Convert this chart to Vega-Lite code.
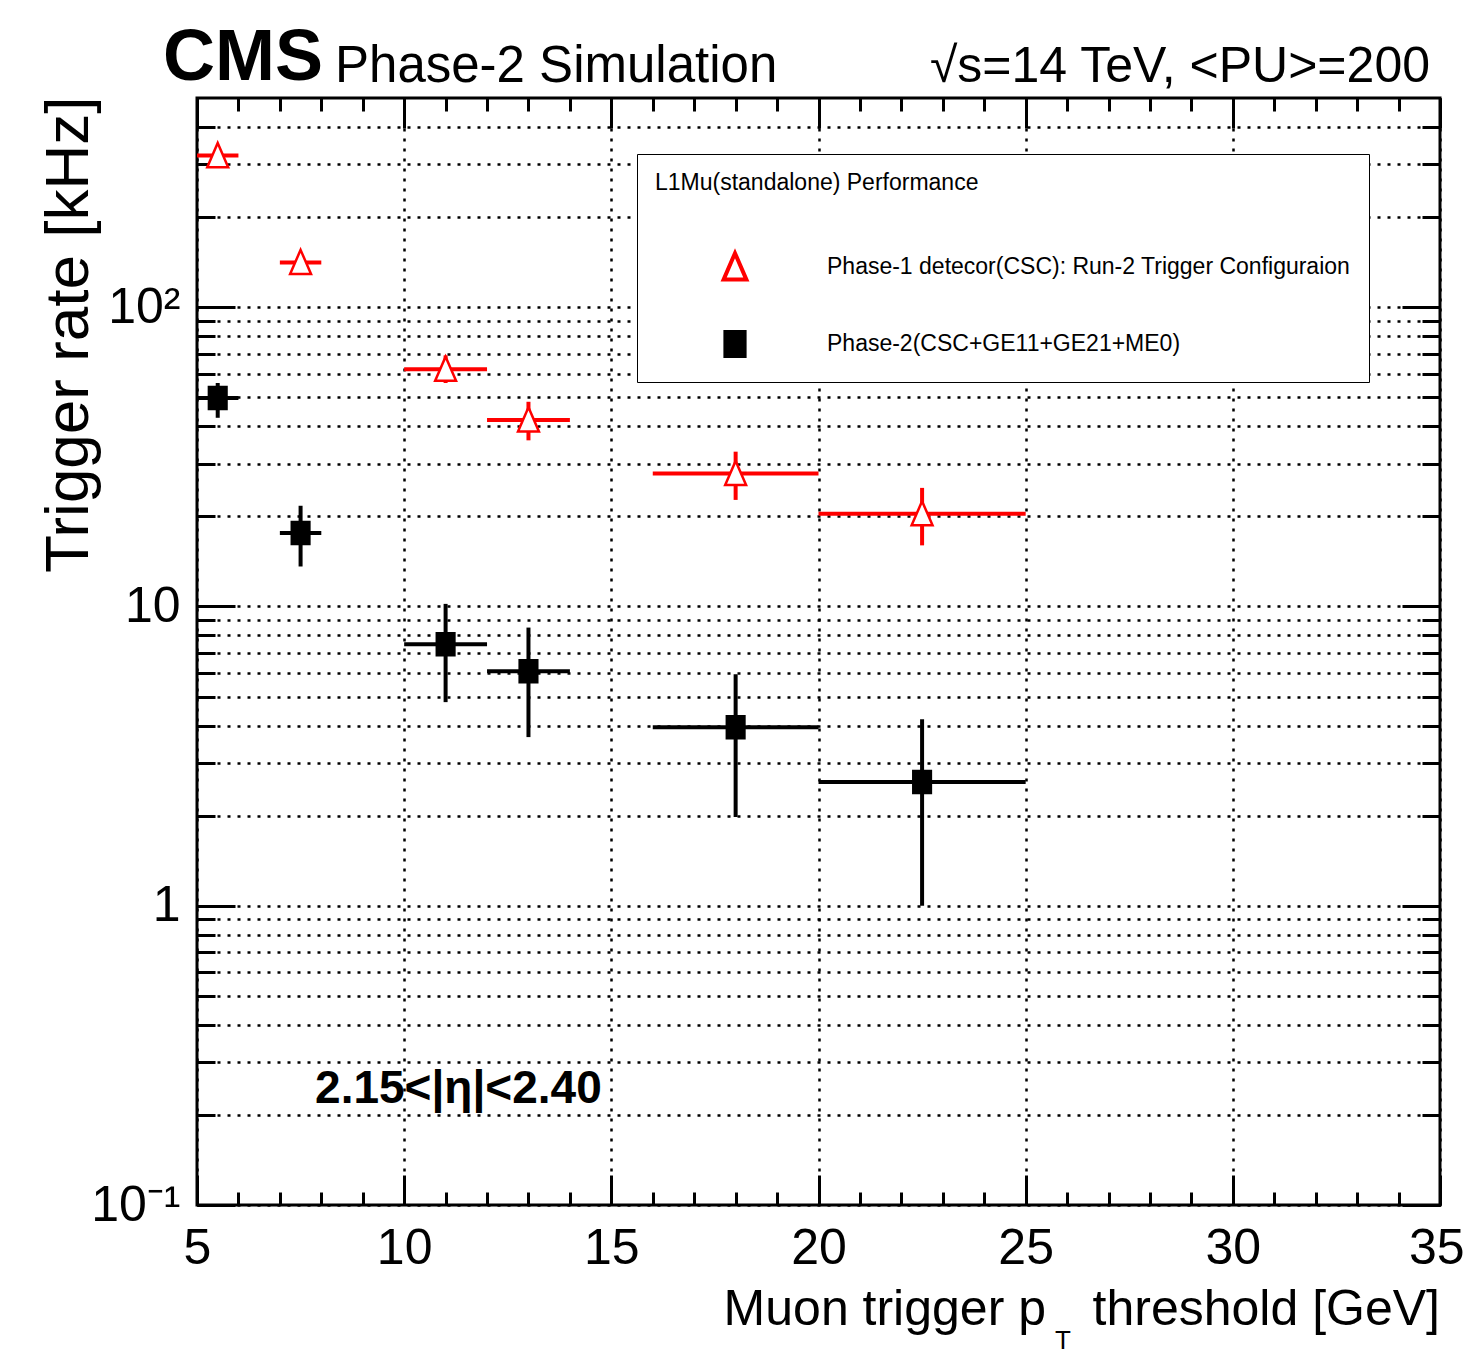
{
  "$schema": "https://vega.github.io/schema/vega-lite/v6.json",
  "width": 1243,
  "height": 1107,
  "autosize": "none",
  "padding": {"left": 197, "top": 98, "right": 25, "bottom": 150},
  "background": "white",
  "config": {
    "font": "Liberation Sans",
    "view": {"stroke": "black", "strokeWidth": 3},
    "axis": {"domain": false, "offset": 0, "tickColor": "black", "tickWidth": 3, "labelColor": "black", "gridColor": "black", "gridOpacity": 1, "titleColor": "black", "labelFont": "Liberation Sans", "titleFont": "Liberation Sans"},
    "legend": {"labelFont": "Liberation Sans", "titleFont": "Liberation Sans"}
  },
  "data": {
    "values": [
      {"series": "Phase-1 detecor(CSC): Run-2 Trigger Configuraion", "x": 5.5, "xlo": 5, "xhi": 6, "rate": 321, "lo": 305, "hi": 338},
      {"series": "Phase-1 detecor(CSC): Run-2 Trigger Configuraion", "x": 7.5, "xlo": 7, "xhi": 8, "rate": 141, "lo": 133, "hi": 150},
      {"series": "Phase-1 detecor(CSC): Run-2 Trigger Configuraion", "x": 11, "xlo": 10, "xhi": 12, "rate": 62, "lo": 55.8, "hi": 69},
      {"series": "Phase-1 detecor(CSC): Run-2 Trigger Configuraion", "x": 13, "xlo": 12, "xhi": 14, "rate": 42, "lo": 35.9, "hi": 48.3},
      {"series": "Phase-1 detecor(CSC): Run-2 Trigger Configuraion", "x": 18, "xlo": 16, "xhi": 20, "rate": 27.8, "lo": 22.7, "hi": 32.9},
      {"series": "Phase-1 detecor(CSC): Run-2 Trigger Configuraion", "x": 22.5, "xlo": 20, "xhi": 25, "rate": 20.4, "lo": 16.0, "hi": 24.9},
      {"series": "Phase-2(CSC+GE11+GE21+ME0)", "x": 5.5, "xlo": 5, "xhi": 6, "rate": 49.7, "lo": 42.7, "hi": 55.8},
      {"series": "Phase-2(CSC+GE11+GE21+ME0)", "x": 7.5, "xlo": 7, "xhi": 8, "rate": 17.6, "lo": 13.6, "hi": 21.7},
      {"series": "Phase-2(CSC+GE11+GE21+ME0)", "x": 11, "xlo": 10, "xhi": 12, "rate": 7.47, "lo": 4.79, "hi": 10.2},
      {"series": "Phase-2(CSC+GE11+GE21+ME0)", "x": 13, "xlo": 12, "xhi": 14, "rate": 6.07, "lo": 3.66, "hi": 8.5},
      {"series": "Phase-2(CSC+GE11+GE21+ME0)", "x": 18, "xlo": 16, "xhi": 20, "rate": 3.95, "lo": 1.98, "hi": 5.94},
      {"series": "Phase-2(CSC+GE11+GE21+ME0)", "x": 22.5, "xlo": 20, "xhi": 25, "rate": 2.59, "lo": 1.0, "hi": 4.2}
    ]
  },
  "resolve": {"axis": {"x": "independent", "y": "independent"}},
  "layer": [
    {
      "mark": {"type": "rule", "strokeWidth": 4},
      "encoding": {
        "x": {"field": "xlo", "type": "quantitative", "scale": {"domain": [5, 35], "nice": false, "zero": false},
          "axis": {"orient": "bottom", "values": [5, 10, 15, 20, 25, 30, 35], "tickSize": -30, "labelPadding": 48, "labelFontSize": 50, "labelFlush": false, "labelOverlap": false,
            "labelAlign": {"condition": {"test": "datum.value > 34", "value": "right"}, "value": "center"},
            "labelOffset": {"condition": {"test": "datum.value > 34", "value": 24}, "value": 0},
            "grid": true, "gridDash": [3, 7], "gridWidth": 2.5, "title": null}},
        "x2": {"field": "xhi"},
        "y": {"field": "rate", "type": "quantitative", "scale": {"type": "log", "domain": [0.1, 500], "nice": false},
          "axis": {"orient": "left", "values": [0.1, 1, 10, 100], "tickSize": -38, "labelPadding": 55, "labelFontSize": 50, "labelFlush": false, "labelOverlap": false,
            "labelExpr": "datum.value < 0.5 ? '10⁻¹' : datum.value > 50 ? '10²' : datum.value < 5 ? '1' : '10'",
            "grid": false, "title": "Trigger rate [kHz]", "titleFontSize": 62, "titleFontWeight": "normal", "titleAngle": -90, "titleAlign": "right", "titleBaseline": "alphabetic", "titleX": -110, "titleY": -2}},
        "color": {"field": "series", "type": "nominal", "scale": {"domain": ["Phase-2(CSC+GE11+GE21+ME0)", "Phase-1 detecor(CSC): Run-2 Trigger Configuraion"], "range": ["#000000", "#ff0000"]}, "legend": null}
      }
    },
    {
      "mark": {"type": "rule", "strokeWidth": 4},
      "encoding": {
        "x": {"field": "x", "type": "quantitative",
          "axis": {"orient": "bottom", "values": [5,6,7,8,9,10,11,12,13,14,15,16,17,18,19,20,21,22,23,24,25,26,27,28,29,30,31,32,33,34,35], "tickSize": -13, "labels": false, "grid": false, "title": null}},
        "y": {"field": "lo", "type": "quantitative",
          "axis": {"orient": "left", "values": [0.1,0.2,0.3,0.4,0.5,0.6,0.7,0.8,0.9,1,2,3,4,5,6,7,8,9,10,20,30,40,50,60,70,80,90,100,200,300,400], "tickSize": -18, "labels": false, "grid": true, "gridDash": [3, 7], "gridWidth": 2.5, "title": null}},
        "y2": {"field": "hi"},
        "color": {"field": "series", "type": "nominal", "legend": null}
      }
    },
    {
      "mark": {"type": "point", "size": 484, "strokeWidth": 2.5, "opacity": 1},
      "encoding": {
        "x": {"field": "x", "type": "quantitative",
          "axis": {"orient": "top", "values": [5, 10, 15, 20, 25, 30, 35], "tickSize": -30, "labels": false, "grid": false, "title": null}},
        "y": {"field": "rate", "type": "quantitative",
          "axis": {"orient": "right", "values": [0.1, 1, 10, 100], "tickSize": -38, "labels": false, "grid": false, "title": null}},
        "fill": {"field": "series", "type": "nominal", "scale": {"domain": ["Phase-1 detecor(CSC): Run-2 Trigger Configuraion", "Phase-2(CSC+GE11+GE21+ME0)"], "range": ["#ffffff", "#000000"]},
          "legend": {
            "orient": "none", "legendX": 440, "legendY": 56,
            "title": "L1Mu(standalone) Performance", "titleFontSize": 23, "titleFontWeight": "normal", "titleColor": "black", "titlePadding": 58, "titleLimit": 1000,
            "labelFontSize": 23, "labelColor": "black", "labelLimit": 1000,
            "padding": 18, "strokeColor": "black", "fillColor": "white",
            "symbolSize": 576, "symbolOffset": 66, "labelOffset": 78, "rowPadding": 36, "symbolStrokeWidth": 4}},
        "stroke": {"field": "series", "type": "nominal", "scale": {"domain": ["Phase-1 detecor(CSC): Run-2 Trigger Configuraion", "Phase-2(CSC+GE11+GE21+ME0)"], "range": ["#ff0000", "#000000"]},
          "legend": {
            "orient": "none", "legendX": 440, "legendY": 56,
            "title": "L1Mu(standalone) Performance", "titleFontSize": 23, "titleFontWeight": "normal", "titleColor": "black", "titlePadding": 58, "titleLimit": 1000,
            "labelFontSize": 23, "labelColor": "black", "labelLimit": 1000,
            "padding": 18, "strokeColor": "black", "fillColor": "white",
            "symbolSize": 576, "symbolOffset": 66, "labelOffset": 78, "rowPadding": 36, "symbolStrokeWidth": 4}},
        "shape": {"field": "series", "type": "nominal",
          "scale": {"domain": ["Phase-1 detecor(CSC): Run-2 Trigger Configuraion", "Phase-2(CSC+GE11+GE21+ME0)"], "range": ["M0,-1.15L0.95,1.05H-0.95Z", "M-0.8,-1H0.8V1H-0.8Z"]},
          "legend": {
            "orient": "none", "legendX": 440, "legendY": 56,
            "title": "L1Mu(standalone) Performance", "titleFontSize": 23, "titleFontWeight": "normal", "titleColor": "black", "titlePadding": 58, "titleLimit": 1000,
            "labelFontSize": 23, "labelColor": "black", "labelLimit": 1000,
            "padding": 18, "strokeColor": "black", "fillColor": "white",
            "symbolSize": 576, "symbolOffset": 66, "labelOffset": 78, "rowPadding": 36, "symbolStrokeWidth": 4}}
      }
    },
    {
      "mark": {"type": "point", "opacity": 0},
      "encoding": {
        "x": {"field": "x", "type": "quantitative",
          "axis": {"orient": "top", "values": [5,6,7,8,9,10,11,12,13,14,15,16,17,18,19,20,21,22,23,24,25,26,27,28,29,30,31,32,33,34,35], "tickSize": -13, "labels": false, "grid": false, "title": null}},
        "y": {"field": "rate", "type": "quantitative",
          "axis": {"orient": "right", "values": [0.1,0.2,0.3,0.4,0.5,0.6,0.7,0.8,0.9,1,2,3,4,5,6,7,8,9,10,20,30,40,50,60,70,80,90,100,200,300,400], "tickSize": -18, "labels": false, "grid": false, "title": null}}
      }
    },
    {
      "data": {"values": [{}]},
      "mark": {"type": "text", "text": "CMS", "fontWeight": "bold", "fontSize": 72, "align": "left", "baseline": "alphabetic", "dx": -34, "dy": -18, "color": "black"},
      "encoding": {"x": {"datum": 5, "type": "quantitative", "axis": null}, "y": {"datum": 500, "type": "quantitative", "axis": null}}
    },
    {
      "data": {"values": [{}]},
      "mark": {"type": "text", "text": "Phase-2 Simulation", "fontSize": 51, "align": "left", "baseline": "alphabetic", "dx": 138, "dy": -16, "color": "black"},
      "encoding": {"x": {"datum": 5, "type": "quantitative", "axis": null}, "y": {"datum": 500, "type": "quantitative", "axis": null}}
    },
    {
      "data": {"values": [{}]},
      "mark": {"type": "text", "text": "√s=14 TeV, <PU>=200", "fontSize": 50, "align": "right", "baseline": "alphabetic", "dx": -10, "dy": -16, "color": "black"},
      "encoding": {"x": {"datum": 35, "type": "quantitative", "axis": null}, "y": {"datum": 500, "type": "quantitative", "axis": null}}
    },
    {
      "data": {"values": [{}]},
      "mark": {"type": "text", "text": "threshold [GeV]", "fontSize": 50, "align": "right", "baseline": "alphabetic", "dy": 120, "color": "black"},
      "encoding": {"x": {"datum": 35, "type": "quantitative", "axis": null}, "y": {"datum": 0.1, "type": "quantitative", "axis": null}}
    },
    {
      "data": {"values": [{}]},
      "mark": {"type": "text", "text": "Muon trigger p", "fontSize": 50, "align": "right", "baseline": "alphabetic", "dx": -394, "dy": 120, "color": "black"},
      "encoding": {"x": {"datum": 35, "type": "quantitative", "axis": null}, "y": {"datum": 0.1, "type": "quantitative", "axis": null}}
    },
    {
      "data": {"values": [{}]},
      "mark": {"type": "text", "text": "T", "fontSize": 26, "align": "center", "baseline": "alphabetic", "dx": -377, "dy": 144, "color": "black"},
      "encoding": {"x": {"datum": 35, "type": "quantitative", "axis": null}, "y": {"datum": 0.1, "type": "quantitative", "axis": null}}
    },
    {
      "data": {"values": [{}]},
      "mark": {"type": "text", "text": "2.15<|η|<2.40", "fontWeight": "bold", "fontSize": 46, "align": "left", "baseline": "middle", "color": "black"},
      "encoding": {"x": {"datum": 7.85, "type": "quantitative", "axis": null}, "y": {"datum": 0.245, "type": "quantitative", "axis": null}}
    }
  ]
}
